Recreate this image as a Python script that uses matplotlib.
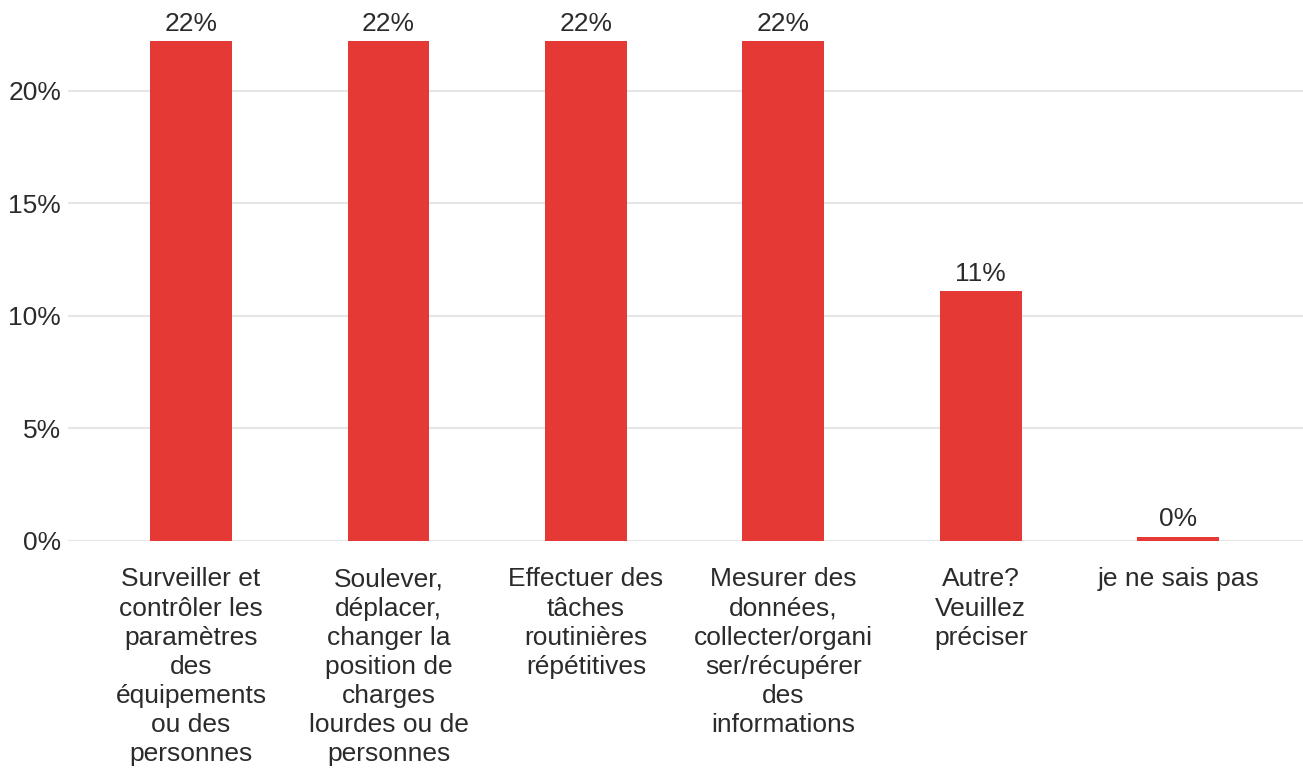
import matplotlib
matplotlib.use('Agg')
import matplotlib.pyplot as plt
import numpy as np

plt.rcParams['font.family'] = ['Liberation Sans', 'DejaVu Sans']

# Données
categories = [
    "Surveiller et\ncontrôler les\nparamètres\ndes\néquipements\nou des\npersonnes",
    "Soulever,\ndéplacer,\nchanger la\nposition de\ncharges\nlourdes ou de\npersonnes",
    "Effectuer des\ntâches\nroutinières\nrépétitives",
    "Mesurer des\ndonnées,\ncollecter/organi\nser/récupérer\ndes\ninformations",
    "Autre?\nVeuillez\npréciser",
    "je ne sais pas",
]
values = [22.2, 22.2, 22.2, 22.2, 11.1, 0.0]
value_labels = ["22%", "22%", "22%", "22%", "11%", "0%"]
y_ticks = [0, 5, 10, 15, 20]
y_tick_labels = ["0%", "5%", "10%", "15%", "20%"]

BAR_COLOR = "#e53935"
TEXT_COLOR = "#2b2b2b"
FS = 19

fig = plt.figure(figsize=(13.03, 7.69), dpi=100)
ax = fig.add_axes([0.0522, 0.2965, 0.948, 0.7022])

x = np.arange(len(categories))
# hauteur minimale pour que la barre à 0% reste visible
heights = [max(v, 0.18) for v in values]
ax.bar(x, heights, width=0.415, color=BAR_COLOR, zorder=3)

for xi, h, lab in zip(x, heights, value_labels):
    ax.annotate(lab, (xi, h), xytext=(0, 4), textcoords="offset points",
                ha="center", va="bottom", fontsize=FS, color=TEXT_COLOR)

ax.set_xlim(-0.623, 5.633)
ax.set_ylim(0, 24)
ax.set_yticks(y_ticks)
ax.set_yticklabels(y_tick_labels, fontsize=FS, color=TEXT_COLOR)
ax.set_xticks(x)
ax.set_xticklabels(categories, fontsize=FS, color=TEXT_COLOR, linespacing=1.27, va="top")
ax.tick_params(axis="both", length=0)
ax.tick_params(axis="y", pad=5)
ax.tick_params(axis="x", pad=19)
ax.grid(axis="y", color="#e6e6e6", linewidth=1.5, zorder=0)
for s in ax.spines.values():
    s.set_visible(False)

plt.savefig("out.png", dpi=100)
plt.close()
